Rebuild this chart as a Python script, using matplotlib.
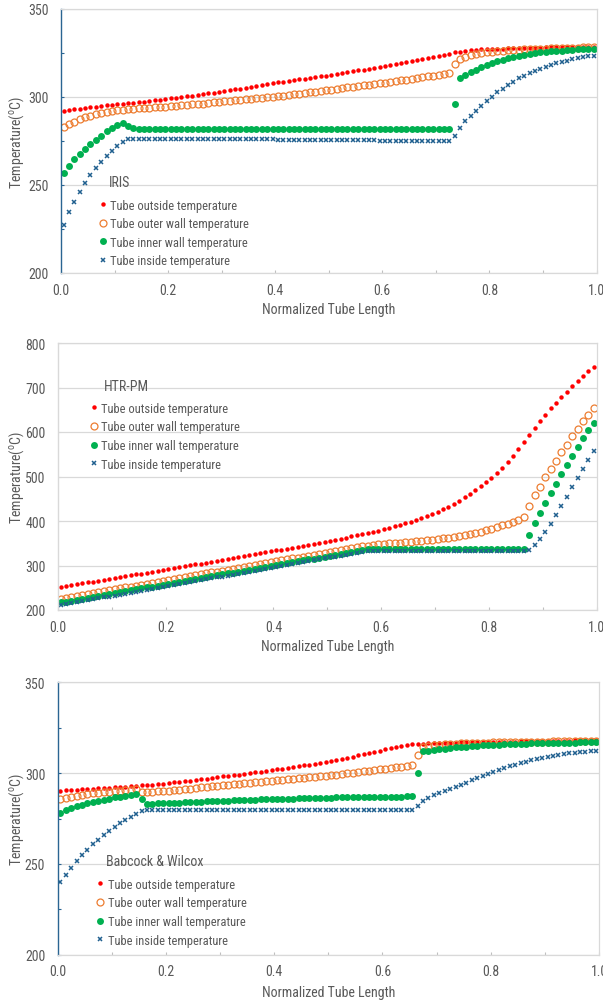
import numpy as np
import matplotlib
matplotlib.use("Agg")
import matplotlib.pyplot as plt
from matplotlib.ticker import MultipleLocator

plt.rcParams['font.family'] = ['Roboto Condensed', 'Liberation Sans Narrow', 'Liberation Sans', 'DejaVu Sans']

# normalized position of each of the 100 tube segments
tube_pos = np.arange(100) * 0.01 + 0.005

series_labels = ["Tube outside temperature", "Tube outer wall temperature",
                 "Tube inner wall temperature", "Tube inside temperature"]

# ---- IRIS ----
iris_outside = [
    292.0, 292.5, 292.9, 293.3, 293.7, 294.1, 294.5, 294.9, 295.2, 295.5,
    295.8, 296.1, 296.4, 296.7, 297.0, 297.3, 297.7, 298.1, 298.5, 298.9,
    299.2, 299.6, 300.0, 300.4, 300.8, 301.2, 301.6, 302.0, 302.4, 302.9,
    303.3, 303.8, 304.3, 304.8, 305.3, 305.8, 306.3, 306.8, 307.3, 307.8,
    308.3, 308.7, 309.1, 309.6, 310.0, 310.4, 310.9, 311.3, 311.8, 312.2,
    312.7, 313.2, 313.6, 314.1, 314.6, 315.1, 315.6, 316.1, 316.6, 317.1,
    317.6, 318.2, 318.7, 319.3, 319.9, 320.5, 321.1, 321.7, 322.3, 322.9,
    323.5, 324.1, 324.7, 325.3, 325.8, 326.2, 326.5, 326.8, 327.0, 327.2,
    327.3, 327.4, 327.5, 327.6, 327.7, 327.8, 327.9, 328.0, 328.0, 328.1,
    328.2, 328.2, 328.3, 328.3, 328.4, 328.4, 328.5, 328.5, 328.6, 328.6,
]
iris_outer = [
    283.0, 284.6, 286.0, 287.3, 288.4, 289.4, 290.2, 290.9, 291.5, 292.0,
    292.4, 292.8, 293.1, 293.4, 293.6, 293.8, 294.0, 294.2, 294.4, 294.6,
    294.8, 295.0, 295.3, 295.5, 295.8, 296.0, 296.3, 296.6, 296.9, 297.2,
    297.5, 297.8, 298.1, 298.4, 298.7, 299.0, 299.3, 299.6, 299.9, 300.2,
    300.5, 300.8, 301.2, 301.5, 301.9, 302.2, 302.6, 302.9, 303.3, 303.7,
    304.2, 304.6, 305.0, 305.4, 305.8, 306.2, 306.6, 307.0, 307.4, 307.8,
    308.2, 308.6, 309.0, 309.5, 309.9, 310.3, 310.8, 311.2, 311.7, 312.2,
    312.7, 313.2, 313.9, 318.5, 321.5, 322.8, 323.7, 324.4, 324.9, 325.3,
    325.7, 326.0, 326.3, 326.5, 326.7, 326.9, 327.1, 327.2, 327.3, 327.4,
    327.5, 327.6, 327.7, 327.8, 327.9, 328.0, 328.1, 328.2, 328.3, 328.4,
]
iris_inner = [
    256.7, 260.8, 264.5, 267.6, 270.5, 273.1, 275.7, 278.0, 280.4, 282.6,
    284.1, 285.0, 283.3, 282.2, 282.0, 282.0, 282.0, 282.0, 282.0, 282.0,
    282.0, 282.0, 282.0, 282.0, 282.0, 282.0, 282.0, 282.0, 282.0, 282.0,
    282.0, 282.0, 282.0, 282.0, 282.0, 282.0, 282.0, 282.0, 282.0, 282.0,
    282.0, 282.0, 282.0, 282.0, 282.0, 282.0, 282.0, 282.0, 282.0, 282.0,
    282.0, 282.0, 282.0, 282.0, 282.0, 282.0, 282.0, 282.0, 282.0, 282.0,
    282.0, 282.0, 282.0, 282.0, 282.0, 282.0, 282.0, 282.0, 282.0, 282.0,
    282.0, 282.0, 282.0, 296.0, 310.6, 312.7, 314.0, 315.3, 316.8, 318.0,
    319.1, 320.2, 321.2, 322.2, 322.9, 323.5, 324.0, 324.5, 324.9, 325.3,
    325.6, 325.9, 326.2, 326.4, 326.6, 326.8, 327.0, 327.1, 327.2, 327.3,
]
iris_inside = [
    227.4, 234.5, 240.5, 245.8, 251.0, 255.7, 259.5, 263.2, 266.7, 269.5,
    272.2, 274.6, 276.3, 276.3, 276.3, 276.3, 276.3, 276.3, 276.3, 276.3,
    276.3, 276.3, 276.3, 276.3, 276.3, 276.3, 276.3, 276.3, 276.3, 276.3,
    276.3, 276.2, 276.2, 276.1, 276.1, 276.0, 276.0, 275.9, 275.9, 275.9,
    275.8, 275.8, 275.8, 275.7, 275.7, 275.7, 275.6, 275.6, 275.6, 275.5,
    275.5, 275.5, 275.4, 275.4, 275.4, 275.3, 275.3, 275.3, 275.3, 275.2,
    275.2, 275.2, 275.2, 275.1, 275.1, 275.1, 275.1, 275.0, 275.0, 275.0,
    275.0, 275.0, 275.0, 277.8, 282.6, 286.2, 289.2, 292.2, 295.0, 297.7,
    300.2, 302.7, 304.7, 306.8, 308.7, 310.6, 312.1, 313.6, 315.0, 316.1,
    317.2, 318.2, 319.1, 319.9, 320.6, 321.4, 322.0, 322.6, 323.1, 323.5,
]

# ---- HTR-PM ----
htr_outside = [
    252.3, 254.3, 256.2, 258.2, 260.1, 262.1, 264.0, 266.0, 268.0, 270.0,
    272.0, 274.0, 276.0, 278.0, 280.0, 282.0, 284.0, 286.0, 288.0, 290.0,
    292.0, 294.0, 296.0, 298.1, 300.2, 302.3, 304.4, 306.5, 308.6, 310.7,
    312.8, 314.9, 317.0, 319.1, 321.2, 323.3, 325.4, 327.5, 329.6, 331.7,
    333.8, 335.9, 338.0, 340.2, 342.4, 344.6, 346.8, 349.0, 351.2, 353.5,
    356.0, 358.3, 360.6, 362.9, 365.3, 367.7, 370.2, 372.7, 375.3, 378.0,
    381.0, 384.4, 387.9, 391.4, 395.0, 398.8, 402.6, 406.8, 411.3, 416.0,
    421.0, 426.4, 432.2, 438.6, 445.6, 453.0, 460.8, 469.0, 477.8, 487.3,
    497.5, 508.5, 520.0, 532.5, 546.0, 561.0, 577.0, 594.0, 609.0, 624.0,
    639.0, 653.0, 666.0, 679.0, 691.0, 703.0, 714.0, 725.0, 736.0, 746.0,
]
htr_outer = [
    225.5, 227.6, 229.7, 231.8, 233.9, 236.0, 238.1, 240.2, 242.3, 244.4,
    246.5, 248.6, 250.7, 252.8, 254.9, 257.0, 259.1, 261.2, 263.3, 265.4,
    267.5, 269.6, 271.7, 273.8, 275.9, 278.0, 280.1, 282.2, 284.3, 286.4,
    288.5, 290.6, 292.7, 294.8, 296.9, 299.0, 301.1, 303.2, 305.3, 307.4,
    309.5, 311.6, 313.7, 315.8, 317.9, 320.0, 322.1, 324.2, 326.3, 328.4,
    330.5, 332.6, 334.7, 336.8, 338.9, 341.0, 342.8, 344.5, 346.2, 347.6,
    348.8, 349.8, 350.7, 351.6, 352.5, 353.4, 354.4, 355.5, 356.7, 358.1,
    359.7, 361.2, 362.7, 364.2, 366.1, 368.3, 370.7, 373.4, 376.4, 379.6,
    382.8, 386.3, 390.0, 394.0, 398.3, 402.8, 408.0, 434.3, 459.0, 476.9,
    497.8, 516.4, 535.0, 554.5, 571.6, 590.3, 606.7, 623.9, 638.0, 653.0,
]
htr_inner = [
    217.0, 219.1, 221.2, 223.3, 225.4, 227.5, 229.6, 231.7, 233.8, 235.9,
    238.0, 240.1, 242.2, 244.3, 246.4, 248.5, 250.6, 252.7, 254.8, 256.9,
    259.0, 261.1, 263.2, 265.3, 267.4, 269.5, 271.6, 273.7, 275.8, 277.9,
    280.0, 282.1, 284.2, 286.3, 288.4, 290.5, 292.6, 294.7, 296.8, 298.9,
    301.0, 303.1, 305.2, 307.3, 309.4, 311.5, 313.6, 315.7, 317.8, 319.9,
    322.0, 324.1, 326.2, 328.3, 330.4, 332.5, 334.4, 336.0, 336.8, 337.0,
    337.0, 337.0, 337.0, 337.0, 337.0, 337.0, 337.0, 337.0, 337.0, 337.0,
    337.0, 337.0, 337.0, 337.0, 337.0, 337.0, 337.0, 337.0, 337.0, 337.0,
    337.0, 337.0, 337.0, 337.0, 337.0, 337.0, 337.0, 368.0, 395.0, 418.0,
    440.0, 462.0, 484.0, 505.0, 526.0, 547.0, 567.0, 586.0, 604.0, 621.0,
]
htr_inside = [
    211.0, 213.1, 215.3, 217.4, 219.6, 221.7, 223.8, 226.0, 228.1, 230.3,
    232.4, 234.5, 236.7, 238.8, 241.0, 243.1, 245.2, 247.4, 249.5, 251.7,
    253.8, 255.9, 258.1, 260.2, 262.4, 264.5, 266.6, 268.8, 270.9, 273.1,
    275.2, 277.3, 279.5, 281.6, 283.8, 285.9, 288.0, 290.2, 292.3, 294.5,
    296.6, 298.7, 300.9, 303.0, 305.2, 307.3, 309.4, 311.6, 313.7, 315.9,
    318.0, 320.1, 322.3, 324.4, 326.6, 328.7, 330.6, 332.2, 333.0, 333.0,
    333.0, 333.0, 333.0, 333.0, 333.0, 333.0, 333.0, 333.0, 333.0, 333.0,
    333.0, 333.0, 333.0, 333.0, 333.0, 333.0, 333.0, 333.0, 333.0, 333.0,
    333.0, 333.0, 333.0, 333.0, 333.0, 333.0, 333.0, 335.0, 345.5, 359.0,
    375.4, 392.5, 412.7, 432.8, 453.7, 476.0, 497.0, 517.0, 538.0, 558.0,
]

# ---- Babcock & Wilcox ----
bw_outside = [
    290.3, 290.5, 290.7, 290.9, 291.1, 291.3, 291.5, 291.7, 291.8, 292.0,
    292.2, 292.4, 292.6, 292.8, 293.0, 293.2, 293.4, 293.6, 293.9, 294.2,
    294.6, 294.9, 295.2, 295.5, 295.8, 296.2, 296.6, 297.0, 297.4, 297.8,
    298.2, 298.5, 298.9, 299.2, 299.6, 300.0, 300.4, 300.8, 301.2, 301.6,
    302.0, 302.4, 302.9, 303.3, 303.8, 304.2, 304.7, 305.2, 305.7, 306.2,
    306.7, 307.3, 307.9, 308.5, 309.1, 309.7, 310.3, 311.0, 311.7, 312.4,
    313.1, 313.8, 314.5, 315.1, 315.6, 315.9, 316.1, 316.2, 316.3, 316.4,
    316.5, 316.6, 316.7, 316.8, 316.9, 316.9, 317.0, 317.1, 317.1, 317.2,
    317.2, 317.3, 317.3, 317.4, 317.4, 317.5, 317.5, 317.6, 317.6, 317.7,
    317.7, 317.8, 317.8, 317.9, 317.9, 318.0, 318.0, 318.1, 318.1, 318.2,
]
bw_outer = [
    285.8, 286.4, 287.0, 287.5, 288.0, 288.4, 288.8, 289.2, 289.5, 289.8,
    290.1, 290.4, 290.7, 290.9, 291.2, 289.8, 289.6, 289.8, 290.0, 290.2,
    290.4, 290.7, 290.9, 291.2, 291.5, 291.8, 292.1, 292.4, 292.7, 293.0,
    293.3, 293.6, 293.9, 294.2, 294.5, 294.8, 295.0, 295.3, 295.6, 295.8,
    296.1, 296.3, 296.6, 296.8, 297.1, 297.3, 297.6, 297.9, 298.2, 298.5,
    298.8, 299.1, 299.5, 299.8, 300.2, 300.5, 300.9, 301.2, 301.6, 302.0,
    302.4, 302.8, 303.2, 303.6, 304.1, 304.6, 309.7, 314.6, 315.0, 315.3,
    315.6, 315.8, 316.0, 316.2, 316.3, 316.4, 316.5, 316.6, 316.7, 316.8,
    316.9, 317.0, 317.0, 317.1, 317.1, 317.2, 317.2, 317.3, 317.3, 317.4,
    317.4, 317.5, 317.5, 317.5, 317.6, 317.6, 317.6, 317.7, 317.7, 317.7,
]
bw_inner = [
    278.3, 279.6, 280.7, 281.7, 282.6, 283.4, 284.1, 284.8, 285.4, 286.0,
    286.6, 287.1, 287.6, 288.1, 288.6, 285.9, 283.0, 283.2, 283.3, 283.5,
    283.6, 283.7, 283.8, 284.0, 284.1, 284.2, 284.3, 284.4, 284.6, 284.7,
    284.8, 284.9, 285.0, 285.1, 285.2, 285.3, 285.4, 285.5, 285.6, 285.7,
    285.8, 285.9, 286.0, 286.0, 286.1, 286.2, 286.3, 286.3, 286.4, 286.5,
    286.5, 286.6, 286.6, 286.7, 286.7, 286.8, 286.8, 286.9, 286.9, 287.0,
    287.0, 287.0, 287.1, 287.1, 287.2, 287.2, 299.8, 311.9, 312.4, 312.8,
    313.2, 313.5, 313.8, 314.1, 314.4, 314.6, 314.8, 315.0, 315.2, 315.4,
    315.6, 315.7, 315.8, 315.9, 316.0, 316.1, 316.2, 316.3, 316.4, 316.5,
    316.6, 316.6, 316.7, 316.7, 316.8, 316.8, 316.9, 316.9, 317.0, 317.0,
]
bw_inside = [
    239.8, 244.0, 247.8, 251.4, 254.7, 257.8, 260.7, 263.4, 265.9, 268.2,
    270.4, 272.4, 274.3, 276.1, 277.6, 278.9, 279.5, 279.6, 279.6, 279.6,
    279.6, 279.6, 279.6, 279.6, 279.6, 279.6, 279.6, 279.6, 279.6, 279.6,
    279.6, 279.6, 279.6, 279.6, 279.6, 279.6, 279.6, 279.6, 279.6, 279.6,
    279.6, 279.6, 279.6, 279.6, 279.6, 279.6, 279.6, 279.6, 279.6, 279.6,
    279.6, 279.6, 279.6, 279.6, 279.6, 279.6, 279.6, 279.6, 279.6, 279.6,
    279.6, 279.6, 279.6, 279.6, 279.6, 279.6, 281.7, 284.6, 286.4, 287.9,
    289.0, 290.1, 291.2, 292.3, 293.5, 294.8, 296.1, 297.4, 298.5, 299.6,
    300.7, 301.8, 302.8, 303.7, 304.6, 305.5, 306.3, 307.0, 307.7, 308.4,
    309.0, 309.5, 310.0, 310.5, 310.9, 311.2, 311.5, 311.7, 311.9, 312.0,
]

TEXT = '#595959'
GRID = '#D9D9D9'
SPINE_BLUE = '#2A6592'

marker_styles = [
    dict(marker='o', ms=3.2, mfc='#FF0000', mec='#FF0000', mew=0),
    dict(marker='o', ms=5.0, mfc='none', mec='#ED7D31', mew=0.9),
    dict(marker='o', ms=5.0, mfc='#00B050', mec='#00B050', mew=0),
    dict(marker='x', ms=2.6, mec='#20608F', mew=1.1),
]

# box = (left, top, right, bottom) in pixels of the 603x1003 figure
panels = [
    dict(name='IRIS', data=[iris_outside, iris_outer, iris_inner, iris_inside],
         box=(61, 10, 596.5, 274), ylim=(200, 350), step=50, minor=25,
         left_color=SPINE_BLUE, title_xy=(0.089, 0.344), leg_xy=(0.071, 0.282)),
    dict(name='HTR-PM', data=[htr_outside, htr_outer, htr_inner, htr_inside],
         box=(58, 344, 596.5, 611), ylim=(200, 800), step=100, minor=100,
         left_color=GRID, title_xy=(0.085, 0.838), leg_xy=(0.059, 0.780)),
    dict(name='Babcock & Wilcox', data=[bw_outside, bw_outer, bw_inner, bw_inside],
         box=(57.7, 683.3, 599, 955.7), ylim=(200, 350), step=50, minor=25,
         left_color=SPINE_BLUE, title_xy=(0.089, 0.343), leg_xy=(0.0715, 0.2825)),
]

W, H = 603, 1003
fig = plt.figure(figsize=(W / 100, H / 100), dpi=100)

for p in panels:
    l, t, r, b = p['box']
    ax = fig.add_axes([l / W, 1 - b / H, (r - l) / W, (b - t) / H])
    for label, st, ys in zip(series_labels, marker_styles, p['data']):
        ax.plot(tube_pos, ys, ls='none', label=label, **st)

    ax.set_xlim(0, 1)
    ax.set_ylim(*p['ylim'])
    ax.xaxis.set_major_locator(MultipleLocator(0.2))
    ax.xaxis.set_minor_locator(MultipleLocator(0.1))
    ax.yaxis.set_major_locator(MultipleLocator(p['step']))
    ax.yaxis.set_minor_locator(MultipleLocator(p['minor']))
    ax.xaxis.set_major_formatter(plt.FormatStrFormatter('%.1f'))

    ax.grid(axis='y', which='major', color=GRID, lw=0.9)
    ax.set_axisbelow(True)
    for side in ['top', 'right', 'bottom']:
        ax.spines[side].set_color(GRID)
        ax.spines[side].set_linewidth(0.9)
    ax.spines['left'].set_color(p['left_color'])
    ax.spines['left'].set_linewidth(1.0)

    ax.tick_params(axis='x', which='both', direction='in', length=2.2, width=0.8,
                   color='#BFBFBF', labelcolor=TEXT, labelsize=10, pad=7)
    ax.tick_params(axis='y', which='both', direction='in', length=2.2, width=0.8,
                   color=p['left_color'], labelcolor=TEXT, labelsize=10, pad=9)

    ax.set_xlabel('Normalized Tube Length', fontsize=10, color=TEXT)
    ax.set_ylabel(r'Temperature($\mathregular{^{o}}$C)', fontsize=10, color=TEXT)
    ax.xaxis.set_label_coords(0.5, -0.11)
    ax.yaxis.set_label_coords(-(l - 26) / (r - l), 0.5)

    ax.text(p['title_xy'][0], p['title_xy'][1], p['name'], transform=ax.transAxes,
            ha='left', va='center', fontsize=10, color=TEXT)
    leg = ax.legend(loc='upper left', bbox_to_anchor=p['leg_xy'], frameon=False,
                    prop=dict(size=9), handlelength=0.6, handletextpad=0.3,
                    labelspacing=0.45, borderpad=0, borderaxespad=0)
    for txt in leg.get_texts():
        txt.set_color(TEXT)

fig.savefig('out.png', dpi=100)
